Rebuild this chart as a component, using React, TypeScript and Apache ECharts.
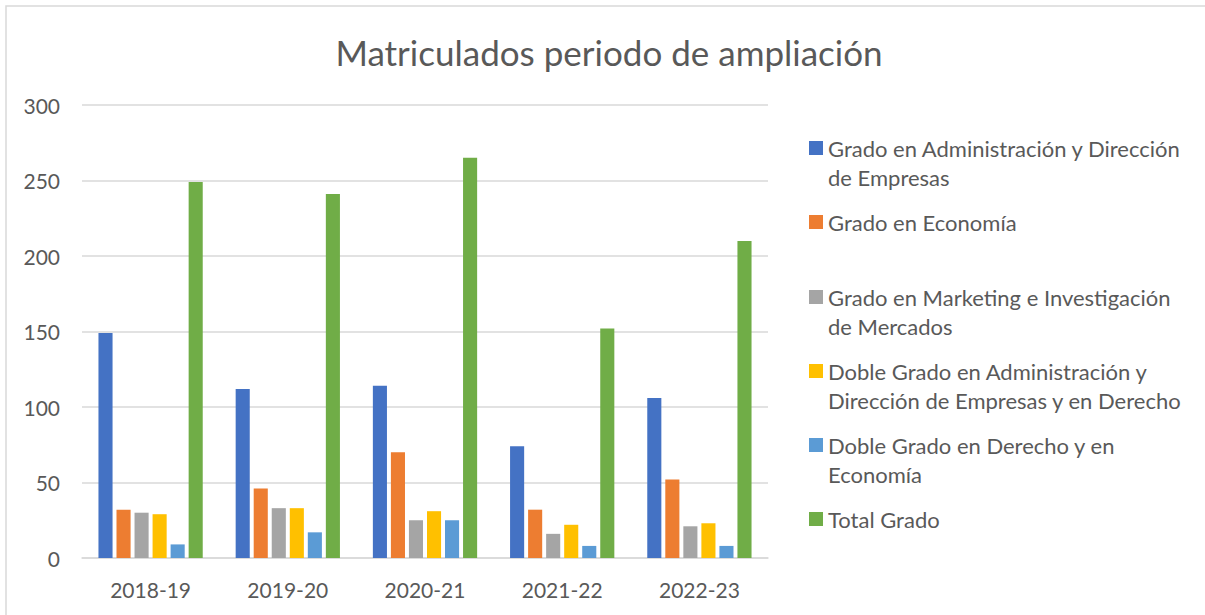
import React, { useEffect, useRef } from "react";
import * as echarts from "echarts";

const categories = ["2018-19", "2019-20", "2020-21", "2021-22", "2022-23"];
const seriesNames = [
  "Grado en Administración y Dirección de Empresas",
  "Grado en Economía",
  "Grado en Marketing e Investigación de Mercados",
  "Doble Grado en Administración y Dirección de Empresas y en Derecho",
  "Doble Grado en Derecho y en Economía",
  "Total Grado",
];
const legendLines = [
  ["Grado en Administración y Dirección", "de Empresas"],
  ["Grado en Economía"],
  ["Grado en Marketing e Investigación", "de Mercados"],
  ["Doble Grado en Administración y", "Dirección de Empresas y en Derecho"],
  ["Doble Grado en Derecho y en", "Economía"],
  ["Total Grado"],
];
const adeValues = [149, 112, 114, 74, 106];
const ecoValues = [32, 46, 70, 32, 52];
const mktValues = [30, 33, 25, 16, 21];
const adeDerValues = [29, 33, 31, 22, 23];
const derEcoValues = [9, 17, 25, 8, 8];
const totalValues = [249, 241, 265, 152, 210];
const seriesValues = [adeValues, ecoValues, mktValues, adeDerValues, derEcoValues, totalValues];
const colors = ["#4472C4", "#ED7D31", "#A5A5A5", "#FFC000", "#5B9BD5", "#70AD47"];
const legendCenters = [148, 222, 297, 371, 445, 519];

const FONT = "Lato, 'Noto Sans', sans-serif";
const TEXT = "#595959";
const LINE_H = 29.6;

export default function App() {
  const ref = useRef<HTMLDivElement>(null);
  useEffect(() => {
    if (!ref.current) return;
    const chart = echarts.init(ref.current, undefined, { renderer: "svg" });
    const legends = seriesNames.map((name, i) => {
      const lines = legendLines[i];
      const text = lines.length > 1 ? " \n" + lines.join("\n") : lines[0];
      const h = lines.length > 1 ? 3 * LINE_H : LINE_H;
      return {
        data: [name],
        orient: "vertical",
        left: 809,
        top: legendCenters[i] - h / 2,
        padding: 0,
        itemWidth: 14,
        itemHeight: 14,
        icon: "rect",
        formatter: () => text,
        textStyle: { color: TEXT, fontSize: 22, fontFamily: FONT, lineHeight: LINE_H },
      };
    });
    chart.setOption({
      animation: false,
      backgroundColor: "#ffffff",
      title: {
        text: "Matriculados periodo de ampliación",
        left: 604,
        textAlign: "center",
        top: 29,
        textStyle: { color: TEXT, fontSize: 35, fontWeight: "normal", fontFamily: FONT },
      },
      legend: legends,
      grid: { left: 82, right: 437, top: 105, bottom: 57 },
      xAxis: {
        type: "category",
        data: categories,
        axisLine: { lineStyle: { color: "#D9D9D9", width: 1.5 } },
        axisTick: { show: false },
        axisLabel: { color: TEXT, fontSize: 21, fontFamily: FONT, margin: 21 },
      },
      yAxis: {
        type: "value",
        min: 0,
        max: 300,
        interval: 50,
        axisLine: { show: false },
        axisTick: { show: false },
        splitLine: { lineStyle: { color: "#D9D9D9", width: 1.5 } },
        axisLabel: { color: TEXT, fontSize: 21, fontFamily: FONT, margin: 22 },
      },
      graphic: [
        {
          type: "rect",
          shape: { x: 6, y: 6, width: 1220, height: 640 },
          style: { fill: "none", stroke: "#D9D9D9", lineWidth: 1.5 },
          silent: true,
        },
      ],
      series: seriesNames.map((name, i) => ({
        name,
        type: "bar",
        data: seriesValues[i],
        barGap: "28%",
        barCategoryGap: "24%",
        itemStyle: { color: colors[i] },
      })),
    });
    return () => chart.dispose();
  }, []);
  return (
    <div
      ref={ref}
      style={{ position: "fixed", left: 0, top: 0, width: 1205, height: 615 }}
    />
  );
}
